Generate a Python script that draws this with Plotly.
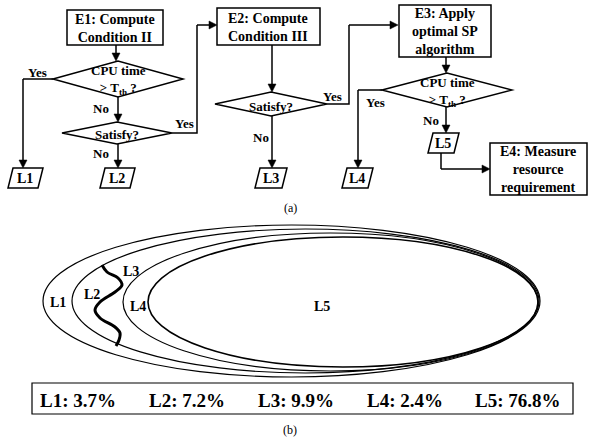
import plotly.graph_objects as go

# ---------------- data ----------------
levels = ["L1", "L2", "L3", "L4", "L5"]
shares = [3.7, 7.2, 9.9, 2.4, 76.8]
step_titles = ["E1: Compute<br>Condition II", "E2: Compute<br>Condition III",
               "E3: Apply<br>optimal SP<br>algorithm", "E4: Measure<br>resource<br>requirement"]
decision_texts = ["CPU time<br>> T<sub>th</sub> ?", "Satisfy?", "Satisfy?", "CPU time<br>> T<sub>th</sub> ?"]
captions = ["(a)", "(b)"]

FONT = "Times New Roman, Liberation Serif, DejaVu Serif, serif"
W, H = 589, 441
fig = go.Figure()
shapes = []
ann = []

def line(pts, w=1.5, color="black"):
    d = "M " + " L ".join(f"{x},{y}" for x, y in pts)
    shapes.append(dict(type="path", path=d, line=dict(color=color, width=w), xref="x", yref="y"))

def poly(pts, w=1.5, fill="white"):
    d = "M " + " L ".join(f"{x},{y}" for x, y in pts) + " Z"
    shapes.append(dict(type="path", path=d, line=dict(color="black", width=w), fillcolor=fill, xref="x", yref="y"))

def rect(x0, y0, x1, y1, w=1.5):
    shapes.append(dict(type="rect", x0=x0, y0=y0, x1=x1, y1=y1, line=dict(color="black", width=w),
                       fillcolor="white", xref="x", yref="y"))

def arrow(x0, y0, x1, y1, L=8, hw=4):
    # shaft + filled triangular head
    dx, dy = x1 - x0, y1 - y0
    n = (dx * dx + dy * dy) ** 0.5
    ux, uy = dx / n, dy / n
    bx, by = x1 - ux * L, y1 - uy * L
    line([(x0, y0), (bx, by)])
    poly([(x1, y1), (bx - uy * hw, by + ux * hw), (bx + uy * hw, by - ux * hw)], w=0.5, fill="black")

def text(x, y, t, size=13, bold=True, xanchor="center"):
    if bold:
        t = "<b>" + t + "</b>"
    ann.append(dict(x=x, y=y, text=t, showarrow=False, xref="x", yref="y", xanchor=xanchor,
                    yanchor="middle", font=dict(family=FONT, size=size, color="black")))

def diamond(cx, cy, hw, hh):
    poly([(cx - hw, cy), (cx, cy - hh), (cx + hw, cy), (cx, cy + hh)])

def para(x0, x1, y0, y1, s=5):
    poly([(x0 + s, y0), (x1, y0), (x1 - s, y1), (x0, y1)])

# ---------------- flowchart (a) ----------------
# E1
rect(67, 10, 163, 45)
text(115, 28, step_titles[0], 14)
arrow(116, 45, 116, 61)
diamond(118, 79, 65, 18)
text(118, 80, decision_texts[0], 13)
line([(53, 79), (23, 79)])
arrow(23, 79, 23, 168)
text(37, 72, "Yes", 13)
arrow(118, 97, 118, 122)
text(101, 108, "No", 13)
diamond(117, 133, 55, 11)
text(117, 134, decision_texts[1], 13)
line([(172, 133), (197, 133), (197, 25)])
arrow(197, 25, 217, 25)
text(184, 123, "Yes", 13)
arrow(118, 144, 118, 168)
text(101, 153, "No", 13)
para(8, 43, 168, 188)
text(25, 178, levels[0], 14)
para(100, 135, 168, 188)
text(117, 178, levels[1], 14)

# E2
rect(217, 8, 320, 45)
text(268, 27, step_titles[1], 14)
arrow(272, 45, 272, 92)
diamond(271, 104, 56, 12)
text(271, 106, decision_texts[2], 13)
line([(327, 104), (349, 104), (349, 25)])
arrow(349, 25, 398, 25)
text(332, 96, "Yes", 13)
arrow(272, 116, 272, 168)
text(261, 137, "No", 13)
para(255, 287, 168, 188)
text(271, 178, levels[2], 14)

# E3
rect(399, 5, 491, 57)
text(445, 31, step_titles[2], 14)
arrow(446, 57, 446, 73)
diamond(447, 90, 65, 17)
text(447, 92, decision_texts[3], 13)
line([(382, 90), (358, 90)])
arrow(358, 90, 358, 168)
text(375, 102, "Yes", 13)
arrow(446, 107, 446, 133)
text(431, 120, "No", 13)
para(342, 373, 168, 188)
text(357, 178, levels[3], 14)
para(428, 459, 133, 153)
text(443, 143, levels[4], 14)
line([(441, 153), (441, 169)])
arrow(441, 169, 490, 169)

# E4
rect(490, 143, 587, 195)
text(538, 169, step_titles[3], 14)

text(290, 208, captions[0], 12, bold=False)

# ---------------- ellipses (b) ----------------
ell = [(43, 225, 540, 377, 1.2), (72, 229, 539, 373, 1.2), (123, 233, 538, 371, 1.2), (148, 237, 538, 367, 1.6)]
for x0, y0, x1, y1, w in ell:
    shapes.append(dict(type="circle", x0=x0, y0=y0, x1=x1, y1=y1, line=dict(color="black", width=w),
                       xref="x", yref="y"))

wx = [102, 107, 118, 122, 115, 100, 95, 100, 115, 120, 119, 116]
wy = [265, 272, 278, 285, 292, 302, 310, 318, 327, 333, 340, 346]
fig.add_trace(go.Scatter(x=wx, y=wy, mode="lines", line=dict(color="black", width=3, shape="spline"),
                         hoverinfo="skip", showlegend=False))

text(58, 302, levels[0], 14)
text(92, 294, levels[1], 14)
text(131, 271, levels[2], 14)
text(138, 306, levels[3], 14)
text(322, 306, levels[4], 14)

# legend box
rect(32, 383, 573, 414, w=1.2)
cx = [78, 187, 296, 405, 518]
for i, (lv, s) in enumerate(zip(levels, shares)):
    text(cx[i], 400, f"{lv}: {s}%", 19)

text(290, 430, captions[1], 12, bold=False)

fig.update_layout(
    width=W, height=H, margin=dict(l=0, r=0, t=0, b=0),
    paper_bgcolor="white", plot_bgcolor="white",
    xaxis=dict(range=[0, W], visible=False, fixedrange=True),
    yaxis=dict(range=[H, 0], visible=False, fixedrange=True),
    shapes=shapes, annotations=ann, showlegend=False,
)
fig.write_html("out.html", config={"staticPlot": True},
               post_script="document.body.style.margin='0px';document.body.style.padding='0px';")
